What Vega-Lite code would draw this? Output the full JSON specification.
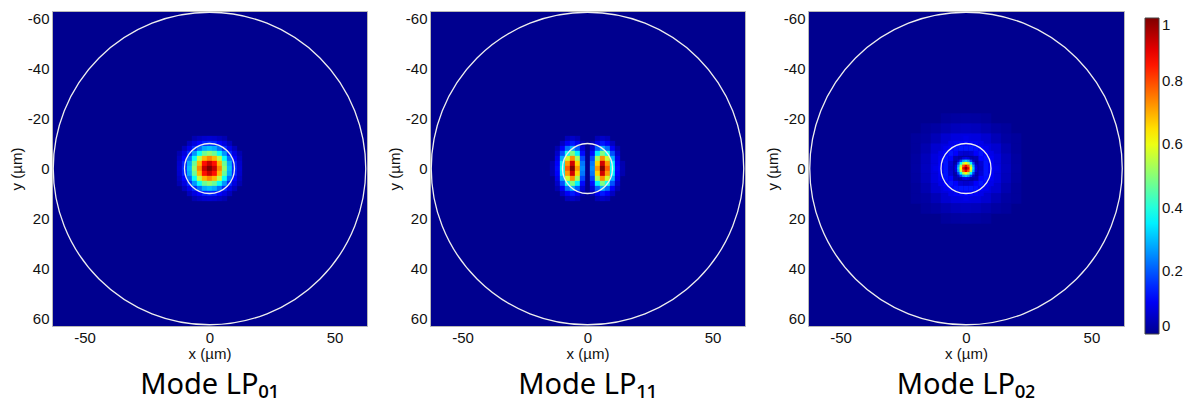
{
"$schema":"https://vega.github.io/schema/vega-lite/v6.json",
"padding":{"left":8,"top":9,"right":0,"bottom":0},
"background":"white",
"datasets":{
"rings":[{"x":0,"y":0,"r":62.5},{"x":0,"y":0,"r":10}],
"lp01":[
{"x":-6,"y":-12,"v":0.034},{"x":-4,"y":-12,"v":0.049},{"x":-2,"y":-12,"v":0.061},{"x":0,"y":-12,"v":0.066},{"x":2,"y":-12,"v":0.061},{"x":4,"y":-12,"v":0.049},{"x":6,"y":-12,"v":0.034},
{"x":-8,"y":-10,"v":0.045},{"x":-6,"y":-10,"v":0.08},{"x":-4,"y":-10,"v":0.11},{"x":-2,"y":-10,"v":0.14},{"x":0,"y":-10,"v":0.15},{"x":2,"y":-10,"v":0.14},{"x":4,"y":-10,"v":0.11},{"x":6,"y":-10,"v":0.08},{"x":8,"y":-10,"v":0.045},
{"x":-10,"y":-8,"v":0.045},{"x":-8,"y":-8,"v":0.09},{"x":-6,"y":-8,"v":0.15},{"x":-4,"y":-8,"v":0.22},{"x":-2,"y":-8,"v":0.28},{"x":0,"y":-8,"v":0.3},{"x":2,"y":-8,"v":0.28},{"x":4,"y":-8,"v":0.22},{"x":6,"y":-8,"v":0.15},{"x":8,"y":-8,"v":0.09},{"x":10,"y":-8,"v":0.045},
{"x":-12,"y":-6,"v":0.034},{"x":-10,"y":-6,"v":0.08},{"x":-8,"y":-6,"v":0.15},{"x":-6,"y":-6,"v":0.26},{"x":-4,"y":-6,"v":0.37},{"x":-2,"y":-6,"v":0.47},{"x":0,"y":-6,"v":0.51},{"x":2,"y":-6,"v":0.47},{"x":4,"y":-6,"v":0.37},{"x":6,"y":-6,"v":0.26},{"x":8,"y":-6,"v":0.15},{"x":10,"y":-6,"v":0.08},{"x":12,"y":-6,"v":0.034},
{"x":-12,"y":-4,"v":0.049},{"x":-10,"y":-4,"v":0.11},{"x":-8,"y":-4,"v":0.22},{"x":-6,"y":-4,"v":0.37},{"x":-4,"y":-4,"v":0.55},{"x":-2,"y":-4,"v":0.69},{"x":0,"y":-4,"v":0.74},{"x":2,"y":-4,"v":0.69},{"x":4,"y":-4,"v":0.55},{"x":6,"y":-4,"v":0.37},{"x":8,"y":-4,"v":0.22},{"x":10,"y":-4,"v":0.11},{"x":12,"y":-4,"v":0.049},
{"x":-12,"y":-2,"v":0.061},{"x":-10,"y":-2,"v":0.14},{"x":-8,"y":-2,"v":0.28},{"x":-6,"y":-2,"v":0.47},{"x":-4,"y":-2,"v":0.69},{"x":-2,"y":-2,"v":0.86},{"x":0,"y":-2,"v":0.93},{"x":2,"y":-2,"v":0.86},{"x":4,"y":-2,"v":0.69},{"x":6,"y":-2,"v":0.47},{"x":8,"y":-2,"v":0.28},{"x":10,"y":-2,"v":0.14},{"x":12,"y":-2,"v":0.061},
{"x":-12,"y":0,"v":0.066},{"x":-10,"y":0,"v":0.15},{"x":-8,"y":0,"v":0.3},{"x":-6,"y":0,"v":0.51},{"x":-4,"y":0,"v":0.74},{"x":-2,"y":0,"v":0.93},{"x":0,"y":0,"v":1},{"x":2,"y":0,"v":0.93},{"x":4,"y":0,"v":0.74},{"x":6,"y":0,"v":0.51},{"x":8,"y":0,"v":0.3},{"x":10,"y":0,"v":0.15},{"x":12,"y":0,"v":0.066},
{"x":-12,"y":2,"v":0.061},{"x":-10,"y":2,"v":0.14},{"x":-8,"y":2,"v":0.28},{"x":-6,"y":2,"v":0.47},{"x":-4,"y":2,"v":0.69},{"x":-2,"y":2,"v":0.86},{"x":0,"y":2,"v":0.93},{"x":2,"y":2,"v":0.86},{"x":4,"y":2,"v":0.69},{"x":6,"y":2,"v":0.47},{"x":8,"y":2,"v":0.28},{"x":10,"y":2,"v":0.14},{"x":12,"y":2,"v":0.061},
{"x":-12,"y":4,"v":0.049},{"x":-10,"y":4,"v":0.11},{"x":-8,"y":4,"v":0.22},{"x":-6,"y":4,"v":0.37},{"x":-4,"y":4,"v":0.55},{"x":-2,"y":4,"v":0.69},{"x":0,"y":4,"v":0.74},{"x":2,"y":4,"v":0.69},{"x":4,"y":4,"v":0.55},{"x":6,"y":4,"v":0.37},{"x":8,"y":4,"v":0.22},{"x":10,"y":4,"v":0.11},{"x":12,"y":4,"v":0.049},
{"x":-12,"y":6,"v":0.034},{"x":-10,"y":6,"v":0.08},{"x":-8,"y":6,"v":0.15},{"x":-6,"y":6,"v":0.26},{"x":-4,"y":6,"v":0.37},{"x":-2,"y":6,"v":0.47},{"x":0,"y":6,"v":0.51},{"x":2,"y":6,"v":0.47},{"x":4,"y":6,"v":0.37},{"x":6,"y":6,"v":0.26},{"x":8,"y":6,"v":0.15},{"x":10,"y":6,"v":0.08},{"x":12,"y":6,"v":0.034},
{"x":-10,"y":8,"v":0.045},{"x":-8,"y":8,"v":0.09},{"x":-6,"y":8,"v":0.15},{"x":-4,"y":8,"v":0.22},{"x":-2,"y":8,"v":0.28},{"x":0,"y":8,"v":0.3},{"x":2,"y":8,"v":0.28},{"x":4,"y":8,"v":0.22},{"x":6,"y":8,"v":0.15},{"x":8,"y":8,"v":0.09},{"x":10,"y":8,"v":0.045},
{"x":-8,"y":10,"v":0.045},{"x":-6,"y":10,"v":0.08},{"x":-4,"y":10,"v":0.11},{"x":-2,"y":10,"v":0.14},{"x":0,"y":10,"v":0.15},{"x":2,"y":10,"v":0.14},{"x":4,"y":10,"v":0.11},{"x":6,"y":10,"v":0.08},{"x":8,"y":10,"v":0.045},
{"x":-6,"y":12,"v":0.034},{"x":-4,"y":12,"v":0.049},{"x":-2,"y":12,"v":0.061},{"x":0,"y":12,"v":0.066},{"x":2,"y":12,"v":0.061},{"x":4,"y":12,"v":0.049},{"x":6,"y":12,"v":0.034}
],
"lp11":[
{"x":-8,"y":-12,"v":0.044},{"x":-6,"y":-12,"v":0.056},{"x":-4,"y":-12,"v":0.04},{"x":4,"y":-12,"v":0.04},{"x":6,"y":-12,"v":0.056},{"x":8,"y":-12,"v":0.044},
{"x":-10,"y":-10,"v":0.051},{"x":-8,"y":-10,"v":0.105},{"x":-6,"y":-10,"v":0.135},{"x":-4,"y":-10,"v":0.097},{"x":-2,"y":-10,"v":0.034},{"x":2,"y":-10,"v":0.034},{"x":4,"y":-10,"v":0.097},{"x":6,"y":-10,"v":0.135},{"x":8,"y":-10,"v":0.105},{"x":10,"y":-10,"v":0.051},
{"x":-12,"y":-8,"v":0.034},{"x":-10,"y":-8,"v":0.106},{"x":-8,"y":-8,"v":0.22},{"x":-6,"y":-8,"v":0.28},{"x":-4,"y":-8,"v":0.2},{"x":-2,"y":-8,"v":0.07},{"x":2,"y":-8,"v":0.07},{"x":4,"y":-8,"v":0.2},{"x":6,"y":-8,"v":0.28},{"x":8,"y":-8,"v":0.22},{"x":10,"y":-8,"v":0.106},{"x":12,"y":-8,"v":0.034},
{"x":-12,"y":-6,"v":0.059},{"x":-10,"y":-6,"v":0.19},{"x":-8,"y":-6,"v":0.38},{"x":-6,"y":-6,"v":0.49},{"x":-4,"y":-6,"v":0.35},{"x":-2,"y":-6,"v":0.12},{"x":2,"y":-6,"v":0.12},{"x":4,"y":-6,"v":0.35},{"x":6,"y":-6,"v":0.49},{"x":8,"y":-6,"v":0.38},{"x":10,"y":-6,"v":0.19},{"x":12,"y":-6,"v":0.059},
{"x":-12,"y":-4,"v":0.088},{"x":-10,"y":-4,"v":0.28},{"x":-8,"y":-4,"v":0.57},{"x":-6,"y":-4,"v":0.73},{"x":-4,"y":-4,"v":0.53},{"x":-2,"y":-4,"v":0.18},{"x":2,"y":-4,"v":0.18},{"x":4,"y":-4,"v":0.53},{"x":6,"y":-4,"v":0.73},{"x":8,"y":-4,"v":0.57},{"x":10,"y":-4,"v":0.28},{"x":12,"y":-4,"v":0.088},
{"x":-14,"y":-2,"v":0.032},{"x":-12,"y":-2,"v":0.11},{"x":-10,"y":-2,"v":0.35},{"x":-8,"y":-2,"v":0.72},{"x":-6,"y":-2,"v":0.92},{"x":-4,"y":-2,"v":0.66},{"x":-2,"y":-2,"v":0.23},{"x":2,"y":-2,"v":0.23},{"x":4,"y":-2,"v":0.66},{"x":6,"y":-2,"v":0.92},{"x":8,"y":-2,"v":0.72},{"x":10,"y":-2,"v":0.35},{"x":12,"y":-2,"v":0.11},{"x":14,"y":-2,"v":0.032},
{"x":-14,"y":0,"v":0.035},{"x":-12,"y":0,"v":0.12},{"x":-10,"y":0,"v":0.38},{"x":-8,"y":0,"v":0.78},{"x":-6,"y":0,"v":1},{"x":-4,"y":0,"v":0.72},{"x":-2,"y":0,"v":0.25},{"x":2,"y":0,"v":0.25},{"x":4,"y":0,"v":0.72},{"x":6,"y":0,"v":1},{"x":8,"y":0,"v":0.78},{"x":10,"y":0,"v":0.38},{"x":12,"y":0,"v":0.12},{"x":14,"y":0,"v":0.035},
{"x":-14,"y":2,"v":0.032},{"x":-12,"y":2,"v":0.11},{"x":-10,"y":2,"v":0.35},{"x":-8,"y":2,"v":0.72},{"x":-6,"y":2,"v":0.92},{"x":-4,"y":2,"v":0.66},{"x":-2,"y":2,"v":0.23},{"x":2,"y":2,"v":0.23},{"x":4,"y":2,"v":0.66},{"x":6,"y":2,"v":0.92},{"x":8,"y":2,"v":0.72},{"x":10,"y":2,"v":0.35},{"x":12,"y":2,"v":0.11},{"x":14,"y":2,"v":0.032},
{"x":-12,"y":4,"v":0.088},{"x":-10,"y":4,"v":0.28},{"x":-8,"y":4,"v":0.57},{"x":-6,"y":4,"v":0.73},{"x":-4,"y":4,"v":0.53},{"x":-2,"y":4,"v":0.18},{"x":2,"y":4,"v":0.18},{"x":4,"y":4,"v":0.53},{"x":6,"y":4,"v":0.73},{"x":8,"y":4,"v":0.57},{"x":10,"y":4,"v":0.28},{"x":12,"y":4,"v":0.088},
{"x":-12,"y":6,"v":0.059},{"x":-10,"y":6,"v":0.19},{"x":-8,"y":6,"v":0.38},{"x":-6,"y":6,"v":0.49},{"x":-4,"y":6,"v":0.35},{"x":-2,"y":6,"v":0.12},{"x":2,"y":6,"v":0.12},{"x":4,"y":6,"v":0.35},{"x":6,"y":6,"v":0.49},{"x":8,"y":6,"v":0.38},{"x":10,"y":6,"v":0.19},{"x":12,"y":6,"v":0.059},
{"x":-12,"y":8,"v":0.034},{"x":-10,"y":8,"v":0.106},{"x":-8,"y":8,"v":0.22},{"x":-6,"y":8,"v":0.28},{"x":-4,"y":8,"v":0.2},{"x":-2,"y":8,"v":0.07},{"x":2,"y":8,"v":0.07},{"x":4,"y":8,"v":0.2},{"x":6,"y":8,"v":0.28},{"x":8,"y":8,"v":0.22},{"x":10,"y":8,"v":0.106},{"x":12,"y":8,"v":0.034},
{"x":-10,"y":10,"v":0.051},{"x":-8,"y":10,"v":0.105},{"x":-6,"y":10,"v":0.135},{"x":-4,"y":10,"v":0.097},{"x":-2,"y":10,"v":0.034},{"x":2,"y":10,"v":0.034},{"x":4,"y":10,"v":0.097},{"x":6,"y":10,"v":0.135},{"x":8,"y":10,"v":0.105},{"x":10,"y":10,"v":0.051},
{"x":-8,"y":12,"v":0.044},{"x":-6,"y":12,"v":0.056},{"x":-4,"y":12,"v":0.04},{"x":4,"y":12,"v":0.04},{"x":6,"y":12,"v":0.056},{"x":8,"y":12,"v":0.044}
],
"lp02":[
{"x":0,"y":-12,"v":0.088},
{"x":-6,"y":-10,"v":0.09},{"x":-4,"y":-10,"v":0.1},{"x":-2,"y":-10,"v":0.105},{"x":0,"y":-10,"v":0.11},{"x":2,"y":-10,"v":0.105},{"x":4,"y":-10,"v":0.1},{"x":6,"y":-10,"v":0.09},
{"x":-8,"y":-8,"v":0.095},{"x":-6,"y":-8,"v":0.11},{"x":-4,"y":-8,"v":0.125},{"x":-2,"y":-8,"v":0.13},{"x":0,"y":-8,"v":0.13},{"x":2,"y":-8,"v":0.13},{"x":4,"y":-8,"v":0.125},{"x":6,"y":-8,"v":0.11},{"x":8,"y":-8,"v":0.095},
{"x":-10,"y":-6,"v":0.09},{"x":-8,"y":-6,"v":0.11},{"x":-6,"y":-6,"v":0.13},{"x":-4,"y":-6,"v":0.11},{"x":-2,"y":-6,"v":0.07},{"x":0,"y":-6,"v":0.06},{"x":2,"y":-6,"v":0.07},{"x":4,"y":-6,"v":0.11},{"x":6,"y":-6,"v":0.13},{"x":8,"y":-6,"v":0.11},{"x":10,"y":-6,"v":0.09},
{"x":-10,"y":-4,"v":0.1},{"x":-8,"y":-4,"v":0.125},{"x":-6,"y":-4,"v":0.11},{"x":-4,"y":-4,"v":0.035},{"x":-2,"y":-4,"v":0.015},{"x":0,"y":-4,"v":0.02},{"x":2,"y":-4,"v":0.015},{"x":4,"y":-4,"v":0.035},{"x":6,"y":-4,"v":0.11},{"x":8,"y":-4,"v":0.125},{"x":10,"y":-4,"v":0.1},
{"x":-10,"y":-2,"v":0.105},{"x":-8,"y":-2,"v":0.13},{"x":-6,"y":-2,"v":0.07},{"x":-4,"y":-2,"v":0.015},{"x":-2,"y":-2,"v":0.36},{"x":0,"y":-2,"v":0.62},{"x":2,"y":-2,"v":0.36},{"x":4,"y":-2,"v":0.015},{"x":6,"y":-2,"v":0.07},{"x":8,"y":-2,"v":0.13},{"x":10,"y":-2,"v":0.105},
{"x":-12,"y":0,"v":0.088},{"x":-10,"y":0,"v":0.11},{"x":-8,"y":0,"v":0.13},{"x":-6,"y":0,"v":0.06},{"x":-4,"y":0,"v":0.02},{"x":-2,"y":0,"v":0.62},{"x":0,"y":0,"v":1},{"x":2,"y":0,"v":0.62},{"x":4,"y":0,"v":0.02},{"x":6,"y":0,"v":0.06},{"x":8,"y":0,"v":0.13},{"x":10,"y":0,"v":0.11},{"x":12,"y":0,"v":0.088},
{"x":-10,"y":2,"v":0.105},{"x":-8,"y":2,"v":0.13},{"x":-6,"y":2,"v":0.07},{"x":-4,"y":2,"v":0.015},{"x":-2,"y":2,"v":0.36},{"x":0,"y":2,"v":0.62},{"x":2,"y":2,"v":0.36},{"x":4,"y":2,"v":0.015},{"x":6,"y":2,"v":0.07},{"x":8,"y":2,"v":0.13},{"x":10,"y":2,"v":0.105},
{"x":-10,"y":4,"v":0.1},{"x":-8,"y":4,"v":0.125},{"x":-6,"y":4,"v":0.11},{"x":-4,"y":4,"v":0.035},{"x":-2,"y":4,"v":0.015},{"x":0,"y":4,"v":0.02},{"x":2,"y":4,"v":0.015},{"x":4,"y":4,"v":0.035},{"x":6,"y":4,"v":0.11},{"x":8,"y":4,"v":0.125},{"x":10,"y":4,"v":0.1},
{"x":-10,"y":6,"v":0.09},{"x":-8,"y":6,"v":0.11},{"x":-6,"y":6,"v":0.13},{"x":-4,"y":6,"v":0.11},{"x":-2,"y":6,"v":0.07},{"x":0,"y":6,"v":0.06},{"x":2,"y":6,"v":0.07},{"x":4,"y":6,"v":0.11},{"x":6,"y":6,"v":0.13},{"x":8,"y":6,"v":0.11},{"x":10,"y":6,"v":0.09},
{"x":-8,"y":8,"v":0.095},{"x":-6,"y":8,"v":0.11},{"x":-4,"y":8,"v":0.125},{"x":-2,"y":8,"v":0.13},{"x":0,"y":8,"v":0.13},{"x":2,"y":8,"v":0.13},{"x":4,"y":8,"v":0.125},{"x":6,"y":8,"v":0.11},{"x":8,"y":8,"v":0.095},
{"x":-6,"y":10,"v":0.09},{"x":-4,"y":10,"v":0.1},{"x":-2,"y":10,"v":0.105},{"x":0,"y":10,"v":0.11},{"x":2,"y":10,"v":0.105},{"x":4,"y":10,"v":0.1},{"x":6,"y":10,"v":0.09},
{"x":0,"y":12,"v":0.088}
],
"lp02core":[
{"x":-2,"y":-4,"v":0.035},{"x":-1,"y":-4,"v":0.08},{"x":0,"y":-4,"v":0.096},{"x":1,"y":-4,"v":0.08},{"x":2,"y":-4,"v":0.035},
{"x":-3,"y":-3,"v":0.06},{"x":-2,"y":-3,"v":0.17},{"x":-1,"y":-3,"v":0.27},{"x":0,"y":-3,"v":0.31},{"x":1,"y":-3,"v":0.27},{"x":2,"y":-3,"v":0.17},{"x":3,"y":-3,"v":0.06},
{"x":-4,"y":-2,"v":0.035},{"x":-3,"y":-2,"v":0.17},{"x":-2,"y":-2,"v":0.36},{"x":-1,"y":-2,"v":0.54},{"x":0,"y":-2,"v":0.62},{"x":1,"y":-2,"v":0.54},{"x":2,"y":-2,"v":0.36},{"x":3,"y":-2,"v":0.17},{"x":4,"y":-2,"v":0.035},
{"x":-4,"y":-1,"v":0.08},{"x":-3,"y":-1,"v":0.27},{"x":-2,"y":-1,"v":0.54},{"x":-1,"y":-1,"v":0.79},{"x":0,"y":-1,"v":0.89},{"x":1,"y":-1,"v":0.79},{"x":2,"y":-1,"v":0.54},{"x":3,"y":-1,"v":0.27},{"x":4,"y":-1,"v":0.08},
{"x":-4,"y":0,"v":0.096},{"x":-3,"y":0,"v":0.31},{"x":-2,"y":0,"v":0.62},{"x":-1,"y":0,"v":0.89},{"x":0,"y":0,"v":1},{"x":1,"y":0,"v":0.89},{"x":2,"y":0,"v":0.62},{"x":3,"y":0,"v":0.31},{"x":4,"y":0,"v":0.096},
{"x":-4,"y":1,"v":0.08},{"x":-3,"y":1,"v":0.27},{"x":-2,"y":1,"v":0.54},{"x":-1,"y":1,"v":0.79},{"x":0,"y":1,"v":0.89},{"x":1,"y":1,"v":0.79},{"x":2,"y":1,"v":0.54},{"x":3,"y":1,"v":0.27},{"x":4,"y":1,"v":0.08},
{"x":-4,"y":2,"v":0.035},{"x":-3,"y":2,"v":0.17},{"x":-2,"y":2,"v":0.36},{"x":-1,"y":2,"v":0.54},{"x":0,"y":2,"v":0.62},{"x":1,"y":2,"v":0.54},{"x":2,"y":2,"v":0.36},{"x":3,"y":2,"v":0.17},{"x":4,"y":2,"v":0.035},
{"x":-3,"y":3,"v":0.06},{"x":-2,"y":3,"v":0.17},{"x":-1,"y":3,"v":0.27},{"x":0,"y":3,"v":0.31},{"x":1,"y":3,"v":0.27},{"x":2,"y":3,"v":0.17},{"x":3,"y":3,"v":0.06},
{"x":-2,"y":4,"v":0.035},{"x":-1,"y":4,"v":0.08},{"x":0,"y":4,"v":0.096},{"x":1,"y":4,"v":0.08},{"x":2,"y":4,"v":0.035}
],
"lp02halo":[
{"x":-8,"y":-20,"v":0.013},{"x":-4,"y":-20,"v":0.018},{"x":0,"y":-20,"v":0.02},{"x":4,"y":-20,"v":0.018},{"x":8,"y":-20,"v":0.013},
{"x":-16,"y":-16,"v":0.013},{"x":-12,"y":-16,"v":0.02},{"x":-8,"y":-16,"v":0.033},{"x":-4,"y":-16,"v":0.044},{"x":0,"y":-16,"v":0.048},{"x":4,"y":-16,"v":0.044},{"x":8,"y":-16,"v":0.033},{"x":12,"y":-16,"v":0.02},{"x":16,"y":-16,"v":0.013},
{"x":-20,"y":-12,"v":0.013},{"x":-16,"y":-12,"v":0.02},{"x":-12,"y":-12,"v":0.04},{"x":-8,"y":-12,"v":0.064},{"x":-4,"y":-12,"v":0.078},{"x":0,"y":-12,"v":0.08},{"x":4,"y":-12,"v":0.078},{"x":8,"y":-12,"v":0.064},{"x":12,"y":-12,"v":0.04},{"x":16,"y":-12,"v":0.02},{"x":20,"y":-12,"v":0.013},
{"x":-20,"y":-8,"v":0.013},{"x":-16,"y":-8,"v":0.033},{"x":-12,"y":-8,"v":0.064},{"x":-8,"y":-8,"v":0.08},{"x":8,"y":-8,"v":0.08},{"x":12,"y":-8,"v":0.064},{"x":16,"y":-8,"v":0.033},{"x":20,"y":-8,"v":0.013},
{"x":-20,"y":-4,"v":0.018},{"x":-16,"y":-4,"v":0.044},{"x":-12,"y":-4,"v":0.078},{"x":12,"y":-4,"v":0.078},{"x":16,"y":-4,"v":0.044},{"x":20,"y":-4,"v":0.018},
{"x":-20,"y":0,"v":0.02},{"x":-16,"y":0,"v":0.048},{"x":-12,"y":0,"v":0.08},{"x":12,"y":0,"v":0.08},{"x":16,"y":0,"v":0.048},{"x":20,"y":0,"v":0.02},
{"x":-20,"y":4,"v":0.018},{"x":-16,"y":4,"v":0.044},{"x":-12,"y":4,"v":0.078},{"x":12,"y":4,"v":0.078},{"x":16,"y":4,"v":0.044},{"x":20,"y":4,"v":0.018},
{"x":-20,"y":8,"v":0.013},{"x":-16,"y":8,"v":0.033},{"x":-12,"y":8,"v":0.064},{"x":-8,"y":8,"v":0.08},{"x":8,"y":8,"v":0.08},{"x":12,"y":8,"v":0.064},{"x":16,"y":8,"v":0.033},{"x":20,"y":8,"v":0.013},
{"x":-20,"y":12,"v":0.013},{"x":-16,"y":12,"v":0.02},{"x":-12,"y":12,"v":0.04},{"x":-8,"y":12,"v":0.064},{"x":-4,"y":12,"v":0.078},{"x":0,"y":12,"v":0.08},{"x":4,"y":12,"v":0.078},{"x":8,"y":12,"v":0.064},{"x":12,"y":12,"v":0.04},{"x":16,"y":12,"v":0.02},{"x":20,"y":12,"v":0.013},
{"x":-16,"y":16,"v":0.013},{"x":-12,"y":16,"v":0.02},{"x":-8,"y":16,"v":0.033},{"x":-4,"y":16,"v":0.044},{"x":0,"y":16,"v":0.048},{"x":4,"y":16,"v":0.044},{"x":8,"y":16,"v":0.033},{"x":12,"y":16,"v":0.02},{"x":16,"y":16,"v":0.013},
{"x":-8,"y":20,"v":0.013},{"x":-4,"y":20,"v":0.018},{"x":0,"y":20,"v":0.02},{"x":4,"y":20,"v":0.018},{"x":8,"y":20,"v":0.013}
]
},
"spacing":17,
"resolve":{"scale":{"color":"shared","size":"shared"},"legend":{"color":"shared"}},
"hconcat":[
{"width":315,"height":315,
"title":{"text":"Mode LP₀₁","orient":"bottom","frame":"group","anchor":"middle","offset":10},
"encoding":{
"x":{"field":"x","type":"quantitative","scale":{"domain":[-63,63],"nice":false,"zero":false},"axis":{"values":[-50,0,50],"title":"x (µm)","labelExpr":"replace(datum.label,'−','-')"}},
"y":{"field":"y","type":"quantitative","scale":{"domain":[-63,63],"nice":false,"zero":false,"reverse":true},"axis":{"values":[-60,-40,-20,0,20,40,60],"title":"y (µm)","labelExpr":"replace(datum.label,'−','-')"}}
},
"layer":[
{"data":{"name":"lp01"},"mark":{"type":"square","size":28,"filled":true,"opacity":1,"strokeWidth":0},
"encoding":{
"color":{"field":"v","type":"quantitative","scale":{"domain":[0,0.111,0.365,0.619,0.873,1],"range":["#00008F","#0000FF","#00FFFF","#FFFF00","#FF0000","#800000"],"interpolate":"rgb"},"legend":{"title":null,"orient":"right","offset":12,"padding":7,"values":[0,0.2,0.4,0.6,0.8,1],"format":"~g","gradientLength":316,"gradientThickness":14,"labelFontSize":15,"labelFont":"Liberation Sans","labelColor":"#111","labelBaseline":"middle","labelOffset":3,"gradientStrokeColor":"#444","gradientStrokeWidth":1,"labelOverlap":false}}
}},
{"data":{"name":"rings"},"mark":{"type":"point","shape":"circle","filled":false,"stroke":"#eeeeee","strokeWidth":1.3,"opacity":1},
"encoding":{"size":{"field":"r","type":"quantitative","scale":{"type":"pow","exponent":2,"domain":[0,62.5],"range":[0,97656]},"legend":null}}}
]},
{"width":315,"height":315,
"title":{"text":"Mode LP₁₁","orient":"bottom","frame":"group","anchor":"middle","offset":10},
"encoding":{
"x":{"field":"x","type":"quantitative","scale":{"domain":[-63,63],"nice":false,"zero":false},"axis":{"values":[-50,0,50],"title":"x (µm)","labelExpr":"replace(datum.label,'−','-')"}},
"y":{"field":"y","type":"quantitative","scale":{"domain":[-63,63],"nice":false,"zero":false,"reverse":true},"axis":{"values":[-60,-40,-20,0,20,40,60],"title":"y (µm)","labelExpr":"replace(datum.label,'−','-')"}}
},
"layer":[
{"data":{"name":"lp11"},"mark":{"type":"square","size":28,"filled":true,"opacity":1,"strokeWidth":0},
"encoding":{
"color":{"field":"v","type":"quantitative","scale":{"domain":[0,0.111,0.365,0.619,0.873,1],"range":["#00008F","#0000FF","#00FFFF","#FFFF00","#FF0000","#800000"],"interpolate":"rgb"},"legend":{"title":null,"orient":"right","offset":12,"padding":7,"values":[0,0.2,0.4,0.6,0.8,1],"format":"~g","gradientLength":316,"gradientThickness":14,"labelFontSize":15,"labelFont":"Liberation Sans","labelColor":"#111","labelBaseline":"middle","labelOffset":3,"gradientStrokeColor":"#444","gradientStrokeWidth":1,"labelOverlap":false}}
}},
{"data":{"name":"rings"},"mark":{"type":"point","shape":"circle","filled":false,"stroke":"#eeeeee","strokeWidth":1.3,"opacity":1},
"encoding":{"size":{"field":"r","type":"quantitative","scale":{"type":"pow","exponent":2,"domain":[0,62.5],"range":[0,97656]},"legend":null}}}
]},
{"width":316,"height":315,
"title":{"text":"Mode LP₀₂","orient":"bottom","frame":"group","anchor":"middle","offset":10},
"encoding":{
"x":{"field":"x","type":"quantitative","scale":{"domain":[-63,63],"nice":false,"zero":false},"axis":{"values":[-50,0,50],"title":"x (µm)","labelExpr":"replace(datum.label,'−','-')"}},
"y":{"field":"y","type":"quantitative","scale":{"domain":[-63,63],"nice":false,"zero":false,"reverse":true},"axis":{"values":[-60,-40,-20,0,20,40,60],"title":"y (µm)","labelExpr":"replace(datum.label,'−','-')"}}
},
"layer":[
{"data":{"name":"lp02halo"},"mark":{"type":"square","size":108,"filled":true,"opacity":1,"strokeWidth":0},
"encoding":{
"color":{"field":"v","type":"quantitative","scale":{"domain":[0,0.111,0.365,0.619,0.873,1],"range":["#00008F","#0000FF","#00FFFF","#FFFF00","#FF0000","#800000"],"interpolate":"rgb"},"legend":{"title":null,"orient":"right","offset":12,"padding":7,"values":[0,0.2,0.4,0.6,0.8,1],"format":"~g","gradientLength":316,"gradientThickness":14,"labelFontSize":15,"labelFont":"Liberation Sans","labelColor":"#111","labelBaseline":"middle","labelOffset":3,"gradientStrokeColor":"#444","gradientStrokeWidth":1,"labelOverlap":false}}
}},
{"data":{"name":"lp02"},"mark":{"type":"square","size":28,"filled":true,"opacity":1,"strokeWidth":0},
"encoding":{
"color":{"field":"v","type":"quantitative","scale":{"domain":[0,0.111,0.365,0.619,0.873,1],"range":["#00008F","#0000FF","#00FFFF","#FFFF00","#FF0000","#800000"],"interpolate":"rgb"},"legend":{"title":null,"orient":"right","offset":12,"padding":7,"values":[0,0.2,0.4,0.6,0.8,1],"format":"~g","gradientLength":316,"gradientThickness":14,"labelFontSize":15,"labelFont":"Liberation Sans","labelColor":"#111","labelBaseline":"middle","labelOffset":3,"gradientStrokeColor":"#444","gradientStrokeWidth":1,"labelOverlap":false}}
}},
{"data":{"name":"lp02core"},"mark":{"type":"square","size":7.6,"filled":true,"opacity":1,"strokeWidth":0},
"encoding":{
"color":{"field":"v","type":"quantitative","scale":{"domain":[0,0.111,0.365,0.619,0.873,1],"range":["#00008F","#0000FF","#00FFFF","#FFFF00","#FF0000","#800000"],"interpolate":"rgb"},"legend":{"title":null,"orient":"right","offset":12,"padding":7,"values":[0,0.2,0.4,0.6,0.8,1],"format":"~g","gradientLength":316,"gradientThickness":14,"labelFontSize":15,"labelFont":"Liberation Sans","labelColor":"#111","labelBaseline":"middle","labelOffset":3,"gradientStrokeColor":"#444","gradientStrokeWidth":1,"labelOverlap":false}}
}},
{"data":{"name":"rings"},"mark":{"type":"point","shape":"circle","filled":false,"stroke":"#eeeeee","strokeWidth":1.3,"opacity":1},
"encoding":{"size":{"field":"r","type":"quantitative","scale":{"type":"pow","exponent":2,"domain":[0,62.5],"range":[0,97656]},"legend":null}}}
]}
],
"config":{
"view":{"fill":"#00008F","stroke":"#b8b8b8","strokeWidth":1},
"axis":{"labelFont":"Liberation Sans","labelFontSize":15,"labelColor":"#111","titleFont":"Liberation Sans","titleFontSize":15,"titleFontWeight":"normal","titleColor":"#111","domain":false,"grid":false,"ticks":false},
"axisX":{"labelPadding":4,"titlePadding":1},
"axisY":{"labelPadding":3,"titlePadding":3},
"title":{"font":"Noto Sans","fontSize":29,"fontWeight":"normal","color":"#000"}
}
}
